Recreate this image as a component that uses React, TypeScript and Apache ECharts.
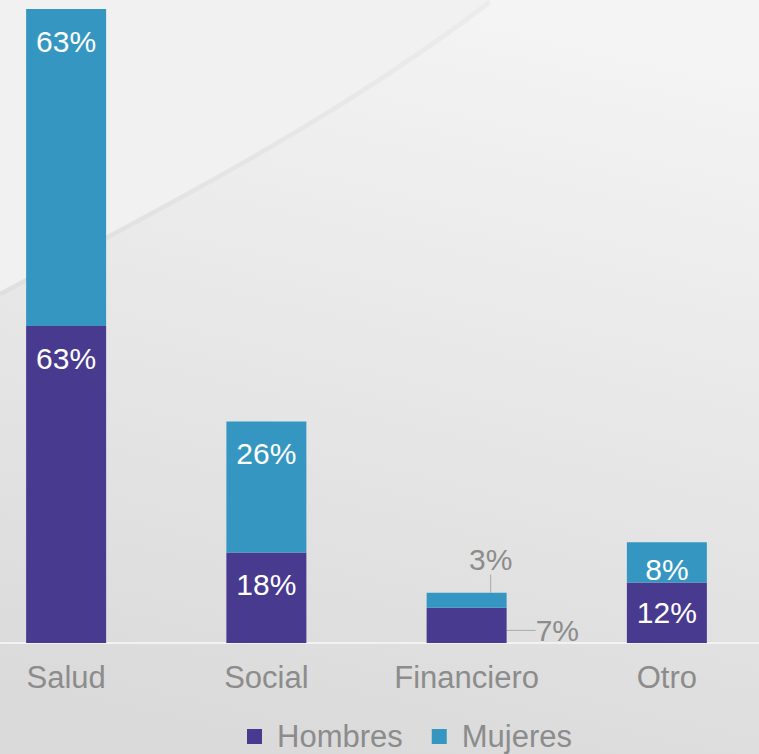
import React, { useEffect, useRef } from "react";
import * as echarts from "echarts";

const categories = ["Salud", "Social", "Financiero", "Otro"];
const hombres = [63, 18, 7, 12];
const mujeres = [63, 26, 3, 8];
const seriesNames = ["Hombres", "Mujeres"];

const FONT = "'Liberation Sans', Arial, sans-serif";
const C_H = "#483b8f";
const C_M = "#3597c1";
const GRAY = "#8c8c8c";
const OX = 34; // inner canvas offset

export default function App() {
  const ref = useRef<HTMLDivElement>(null);
  useEffect(() => {
    if (!ref.current) return;
    echarts.graphic.registerShape(
      "bgTop",
      echarts.graphic.extendPath("M0 0 L0 292 C150 212 330 122 490 0 Z", {})
    );
    const chart = echarts.init(ref.current, null, { renderer: "svg" });

    const hData = hombres.map((v, i) => {
      if (i === 2)
        return {
          value: v,
          label: { position: "right", distance: 5, color: GRAY },
          labelLine: { show: true, lineStyle: { color: "#aaaaaa", width: 1 } },
        };
      if (i === 3) return { value: v, label: { distance: 15 } };
      return v;
    });
    const mData = mujeres.map((v, i) => {
      if (i === 2)
        return {
          value: v,
          label: { position: "top", distance: 5, color: GRAY },
          labelLine: { show: true, lineStyle: { color: "#aaaaaa", width: 1 } },
        };
      if (i === 3) return { value: v, label: { distance: 12 } };
      return v;
    });

    const baseLabel = {
      show: true,
      position: "insideTop",
      distance: 17,
      formatter: "{c}%",
      color: "#ffffff",
      fontSize: 30,
      fontFamily: FONT,
    };

    chart.setOption({
      animation: false,
      backgroundColor: {
        type: "linear",
        x: 0.65,
        y: 0,
        x2: 0.4,
        y2: 1,
        colorStops: [
          { offset: 0, color: "#f4f4f4" },
          { offset: 0.5, color: "#e7e7e7" },
          { offset: 1, color: "#dadada" },
        ],
      },
      graphic: [
        {
          type: "bgTop",
          silent: true,
          z: -10,
          x: OX,
          y: 0,
          style: { fill: "#f1f1f1" },
        },
        {
          type: "bezierCurve",
          silent: true,
          z: -9,
          shape: { x1: OX, y1: 294, cpx1: OX + 150, cpy1: 214, cpx2: OX + 330, cpy2: 124, x2: OX + 490, y2: 2 },
          style: { stroke: "rgba(0,0,0,0.03)", lineWidth: 5, fill: null },
        },
      ],
      legend: {
        data: seriesNames,
        left: 242 + OX,
        top: 716,
        icon: "rect",
        itemWidth: 15,
        itemHeight: 15,
        itemGap: 29,
        textStyle: { color: GRAY, fontSize: 31, fontFamily: FONT, padding: [0, 0, 0, 10] },
      },
      grid: { left: 0, right: 0, top: 9, bottom: 111 },
      xAxis: {
        type: "category",
        data: categories,
        axisLine: { show: true, lineStyle: { color: "#f2f2f2", width: 2 } },
        axisTick: { show: false },
        axisLabel: { color: GRAY, fontSize: 31, fontFamily: FONT, margin: 19 },
      },
      yAxis: {
        type: "value",
        min: 0,
        max: 126,
        show: false,
        splitLine: { show: false },
      },
      series: [
        {
          name: seriesNames[0],
          type: "bar",
          stack: "total",
          barWidth: 80,
          itemStyle: { color: C_H },
          label: baseLabel,
          labelLayout: (p: any) => (p.dataIndex === 2 ? { dx: 24, dy: 5 } : {}),
          data: hData,
        },
        {
          name: seriesNames[1],
          type: "bar",
          stack: "total",
          barWidth: 80,
          itemStyle: { color: C_M },
          label: baseLabel,
          labelLayout: (p: any) => (p.dataIndex === 2 ? { dx: 24, dy: -13 } : {}),
          data: mData,
        },
      ],
    });
    return () => chart.dispose();
  }, []);
  return (
    <div style={{ position: "fixed", left: 0, top: 0, width: 759, height: 754, overflow: "hidden" }}>
      <div
        ref={ref}
        style={{ position: "absolute", left: -OX, top: 0, width: 759 + OX + 8, height: 754 }}
      />
    </div>
  );
}
